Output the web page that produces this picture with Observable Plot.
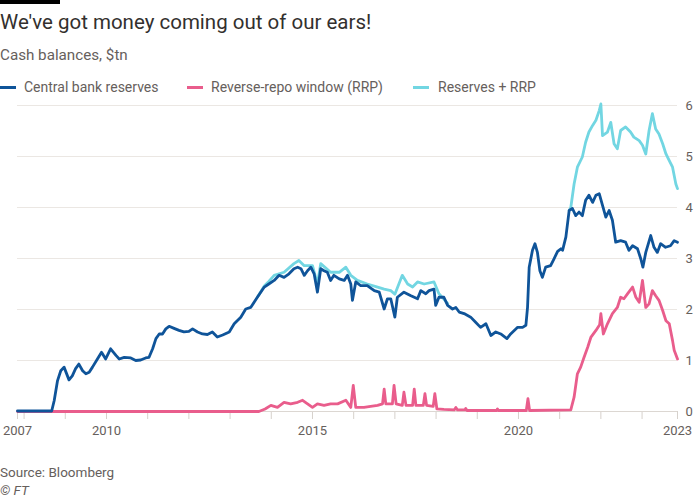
<!DOCTYPE html>
<html>
<head>
<meta charset="utf-8">
<script src="https://cdn.jsdelivr.net/npm/d3@7"></script>
<script src="https://cdn.jsdelivr.net/npm/@observablehq/plot@0.6"></script>
<style>
  html, body { margin: 0; padding: 0; background: #fff; }
  body { width: 700px; height: 500px; position: relative; overflow: hidden; font-family: Roboto, "Noto Sans", sans-serif; }
  #bar { position: absolute; left: 0; top: 0; width: 60px; height: 4px; background: #000; }
  .t { position: absolute; left: 0; line-height: 1; white-space: nowrap; }
  #title { top: 12px; font-size: 20.5px; color: #33302e; }
  #subtitle { top: 48px; font-size: 15.2px; color: #66605c; }
  #legend { position: absolute; left: 0; top: 80px; height: 16px; width: 700px; }
  .item { position: absolute; top: 0; font-size: 14px; line-height: 1; color: #66605c; white-space: nowrap; }
  .sw { position: absolute; top: 6px; width: 16px; height: 3px; }
  #chart { position: absolute; left: 0; top: 95px; }
  #source { top: 466px; font-size: 13.5px; color: #66605c; }
  #ft { top: 484px; font-size: 13.5px; color: #66605c; font-style: italic; }
</style>
</head>
<body>
<div id="bar"></div>
<div class="t" id="title">We've got money coming out of our ears!</div>
<div class="t" id="subtitle">Cash balances, $tn</div>
<div id="legend"></div>
<div id="chart"></div>
<div class="t" id="source">Source: Bloomberg</div>
<div class="t" id="ft">© FT</div>
<script>
// ---- Data (decimal years) ----
const seriesNames = ["Central bank reserves", "Reverse-repo window (RRP)", "Reserves + RRP"];
const seriesColors = ["#0f5499", "#e95d8c", "#72d6e2"];

const reservesYear = [2007.84,2008.67,2008.73,2008.81,2008.89,2008.97,2009.09,2009.17,2009.25,2009.33,2009.42,2009.50,2009.58,2009.66,2009.78,2009.88,2009.98,2010.10,2010.23,2010.31,2010.43,2010.59,2010.71,2010.83,2010.95,2011.03,2011.12,2011.20,2011.28,2011.36,2011.44,2011.52,2011.64,2011.76,2011.88,2012.00,2012.09,2012.21,2012.33,2012.45,2012.57,2012.69,2012.82,2012.98,2013.10,2013.26,2013.38,2013.50,2013.67,2013.83,2013.94,2014.07,2014.19,2014.31,2014.43,2014.55,2014.64,2014.72,2014.80,2014.88,2014.96,2015.04,2015.12,2015.20,2015.28,2015.36,2015.44,2015.52,2015.65,2015.77,2015.85,2015.93,2015.97,2016.05,2016.17,2016.33,2016.50,2016.62,2016.74,2016.82,2016.90,2017.00,2017.06,2017.22,2017.39,2017.55,2017.63,2017.75,2017.83,2017.95,2017.99,2018.07,2018.19,2018.28,2018.40,2018.48,2018.56,2018.68,2018.84,2018.96,2019.08,2019.21,2019.33,2019.45,2019.57,2019.72,2019.81,2019.98,2020.10,2020.18,2020.22,2020.26,2020.34,2020.40,2020.46,2020.52,2020.58,2020.66,2020.78,2020.86,2020.95,2021.03,2021.07,2021.15,2021.23,2021.31,2021.39,2021.47,2021.55,2021.63,2021.71,2021.80,2021.88,2021.96,2022.04,2022.12,2022.20,2022.28,2022.36,2022.48,2022.60,2022.68,2022.77,2022.89,2022.97,2023.02,2023.09,2023.21,2023.29,2023.37,2023.45,2023.57,2023.69,2023.78,2023.86];
const reservesValue = [0.01,0.01,0.21,0.60,0.80,0.87,0.62,0.70,0.84,0.93,0.80,0.74,0.77,0.87,1.03,1.16,1.03,1.23,1.10,1.03,1.06,1.05,1.00,1.01,1.05,1.06,1.23,1.43,1.52,1.52,1.62,1.67,1.63,1.59,1.56,1.57,1.62,1.56,1.52,1.51,1.56,1.46,1.50,1.56,1.72,1.85,2.01,2.04,2.25,2.44,2.50,2.57,2.67,2.63,2.70,2.80,2.83,2.80,2.67,2.76,2.83,2.70,2.34,2.80,2.76,2.73,2.57,2.67,2.60,2.57,2.67,2.50,2.18,2.54,2.47,2.47,2.37,2.34,2.01,2.21,2.21,1.85,2.24,2.34,2.27,2.21,2.37,2.31,2.37,2.40,2.08,2.24,2.24,2.08,2.01,2.04,1.95,1.92,1.85,1.75,1.65,1.72,1.49,1.56,1.52,1.43,1.52,1.65,1.65,1.69,2.04,2.83,3.16,3.29,3.12,2.76,2.63,2.83,2.86,2.99,3.14,3.19,3.16,3.42,3.94,3.98,3.84,3.91,3.84,4.14,4.24,4.10,4.24,4.27,4.04,3.81,3.94,3.75,3.32,3.35,3.32,3.16,3.25,3.19,2.99,2.83,3.12,3.45,3.22,3.12,3.29,3.22,3.25,3.35,3.32];

const rrpYear = [2007.84,2013.70,2013.85,2013.99,2014.15,2014.31,2014.47,2014.64,2014.76,2014.88,2015.00,2015.12,2015.28,2015.44,2015.61,2015.81,2015.93,2015.99,2016.05,2016.25,2016.41,2016.58,2016.70,2016.74,2016.78,2016.94,2016.98,2017.03,2017.18,2017.22,2017.27,2017.43,2017.47,2017.51,2017.69,2017.73,2017.77,2017.93,2017.97,2018.02,2018.19,2018.44,2018.48,2018.52,2018.70,2018.72,2018.75,2019.47,2019.49,2019.51,2020.19,2020.23,2020.27,2021.27,2021.35,2021.43,2021.51,2021.59,2021.68,2021.76,2021.88,2021.97,2022.00,2022.06,2022.16,2022.28,2022.40,2022.48,2022.56,2022.65,2022.77,2022.85,2022.93,2023.01,2023.09,2023.17,2023.25,2023.33,2023.41,2023.50,2023.58,2023.66,2023.74,2023.78,2023.86];
const rrpValue = [0,0,0.05,0.12,0.08,0.18,0.15,0.18,0.22,0.15,0.08,0.15,0.12,0.15,0.15,0.22,0.08,0.51,0.08,0.08,0.10,0.12,0.15,0.44,0.15,0.15,0.51,0.15,0.12,0.38,0.12,0.12,0.44,0.12,0.12,0.35,0.12,0.10,0.35,0.05,0.04,0.03,0.08,0.03,0.03,0.06,0.02,0.02,0.05,0.02,0.02,0.25,0.02,0.03,0.28,0.74,0.87,1.06,1.26,1.46,1.59,1.70,1.92,1.52,1.72,1.92,2.04,2.24,2.21,2.31,2.44,2.24,2.14,2.57,2.04,2.11,2.37,2.27,2.18,1.98,1.78,1.72,1.39,1.20,1.03];

// Reserves + RRP: visible stretches only (equals reserves in between, where RRP is ~0)
const totalYear = [2013.67,2013.83,2013.94,2014.07,2014.31,2014.55,2014.67,2014.80,2015.00,2015.12,2015.20,2015.44,2015.65,2015.81,2015.93,2016.09,2016.33,2016.58,2016.74,2016.90,2017.00,2017.18,2017.31,2017.43,2017.55,2017.71,2017.95,2018.07,2018.28,2018.30,2021.23,2021.27,2021.35,2021.43,2021.55,2021.63,2021.71,2021.80,2021.88,2021.96,2022.00,2022.04,2022.16,2022.24,2022.32,2022.40,2022.48,2022.60,2022.72,2022.80,2022.93,2023.01,2023.09,2023.17,2023.25,2023.33,2023.41,2023.50,2023.58,2023.66,2023.74,2023.82,2023.86];
const totalValue = [2.25,2.46,2.55,2.67,2.73,2.90,2.96,2.86,2.86,2.50,2.90,2.73,2.73,2.83,2.67,2.57,2.50,2.44,2.40,2.37,2.30,2.67,2.50,2.44,2.54,2.50,2.54,2.31,2.12,NaN,3.94,4.00,4.46,4.79,4.99,5.28,5.48,5.61,5.71,5.90,6.03,5.41,5.48,5.67,5.25,5.15,5.51,5.58,5.48,5.38,5.31,5.22,5.05,5.51,5.84,5.54,5.44,5.25,5.05,4.92,4.79,4.46,4.37];

const xStart = 2007.84, xEnd = 2023.86;
const yearTicks = [2008,2009,2010,2011,2012,2013,2014,2015,2016,2017,2018,2019,2020,2021,2022,2023];
const labelPositions = [xStart, 2010, 2015, 2020, xEnd];
const labelTexts = ["2007", "2010", "2015", "2020", "2023"];
const yTicks = [0, 1, 2, 3, 4, 5, 6];

// ---- Tables ----
const reserves = reservesYear.map((x, i) => ({x, v: reservesValue[i]}));
const rrp = rrpYear.map((x, i) => ({x, v: rrpValue[i]}));
const total = totalYear.map((x, i) => ({x, v: totalValue[i]}));
const labelMap = new Map(labelPositions.map((p, i) => [p, labelTexts[i]]));
const xTicks = [xStart, ...yearTicks, xEnd];

// ---- Legend ----
const legendX = [[0, 24], [187, 211], [413, 438]];
const legend = document.getElementById("legend");
seriesNames.forEach((name, i) => {
  const sw = document.createElement("div");
  sw.className = "sw";
  sw.style.left = legendX[i][0] + "px";
  sw.style.background = seriesColors[i];
  legend.appendChild(sw);
  const lab = document.createElement("div");
  lab.className = "item";
  lab.style.left = legendX[i][1] + "px";
  lab.textContent = name;
  legend.appendChild(lab);
});

// ---- Chart ----
const lineOpts = {x: "x", y: "v", strokeWidth: 2.8, strokeLinejoin: "round", strokeLinecap: "round"};
const chart = Plot.plot({
  width: 700,
  height: 351,
  marginTop: 10,
  marginBottom: 35,
  marginLeft: 17,
  marginRight: 23,
  x: {type: "linear", domain: [xStart, xEnd], label: null},
  y: {domain: [0, 6], label: null},
  style: {fontFamily: "Roboto, 'Noto Sans', sans-serif", fontSize: "13px", color: "#66605c", background: "transparent", overflow: "visible"},
  marks: [
    Plot.gridY(yTicks, {stroke: "#ebe7e3", strokeOpacity: 1, strokeWidth: 1}),
    Plot.axisY(yTicks, {anchor: "right", label: null, tickSize: 0, tickPadding: 8, tickFormat: d => String(d), fontSize: 13}),
    Plot.axisX(xTicks, {anchor: "bottom", label: null, tickSize: 8, tickPadding: 6, stroke: "#d6d1cc", tickFormat: d => labelMap.get(d) ?? "", fontSize: 13}),
    Plot.ruleY([0], {stroke: "#dcd7d2"}),
    Plot.line(total, {...lineOpts, stroke: seriesColors[2]}),
    Plot.line(rrp, {...lineOpts, stroke: seriesColors[1]}),
    Plot.line(reserves, {...lineOpts, stroke: seriesColors[0]})
  ]
});
document.getElementById("chart").appendChild(chart);
</script>
</body>
</html>
